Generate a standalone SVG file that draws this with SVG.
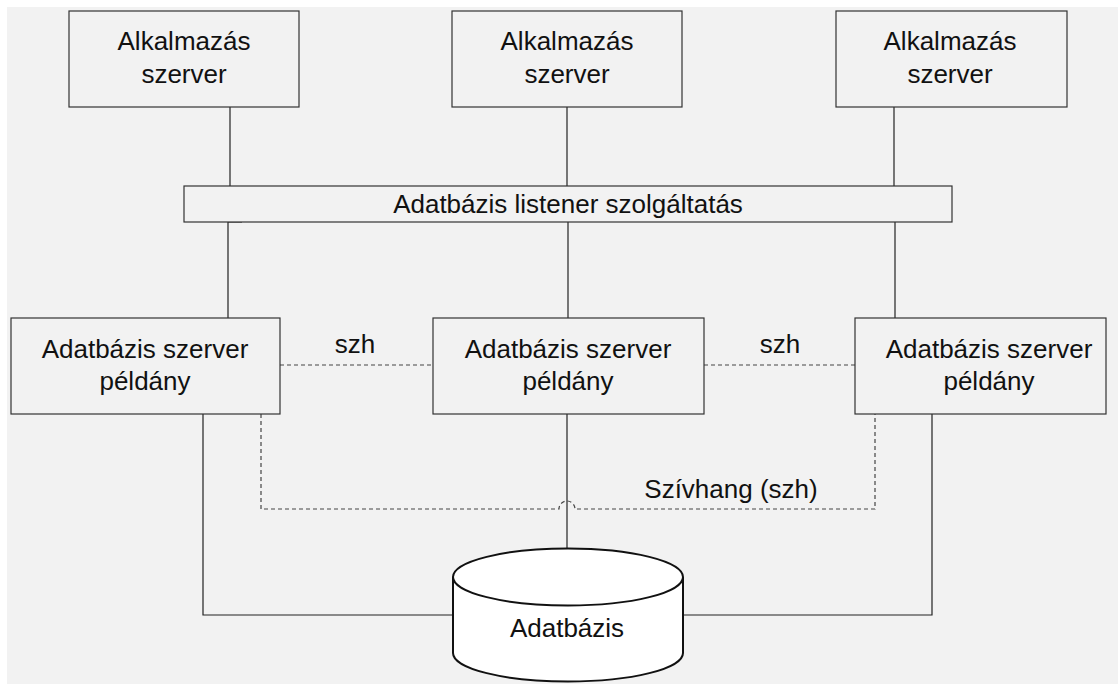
<svg xmlns="http://www.w3.org/2000/svg" width="1118" height="684" viewBox="0 0 1118 684">
<style>
.box{fill:#f2f2f2;stroke:#333;stroke-width:1.2}
.t{font-family:"Liberation Sans",Arial,sans-serif;font-size:26px;fill:#111;text-anchor:middle}
.ln{fill:none;stroke:#222;stroke-width:1.2}
.dl{fill:none;stroke:#444;stroke-width:1.2;stroke-dasharray:4,3}
.db{fill:#fff;stroke:#111;stroke-width:2}
</style>
<rect x="0" y="0" width="1118" height="684" fill="#fff"/>
<rect x="7" y="7" width="1111" height="677" fill="#f2f2f2"/>
<g id="connectors">
<path class="ln" d="M230,107 V186"/>
<path class="ln" d="M567,107 V186"/>
<path class="ln" d="M894,107 V186"/>
<path class="ln" d="M242,222 H228 V318"/>
<path class="ln" d="M568,222 V318"/>
<path class="ln" d="M895,222 V318"/>
<path class="dl" d="M280,365 H433"/>
<path class="dl" d="M704,365 H855"/>
<path class="ln" d="M203,414 V615 H453"/>
<path class="ln" d="M932,414 V615 H683"/>
<path class="ln" d="M567,414 V549"/>
<path class="dl" d="M261,414 V509 H559 A8,8 0 0 1 575,509 H875 V414"/>
<text class="t" x="355" y="353">szh</text>
<text class="t" x="780" y="353">szh</text>
<text class="t" x="731" y="498">Szívhang (szh)</text>
</g>
<g id="app1"><rect class="box" x="69" y="11" width="230" height="96"/><text class="t" x="184" y="50">Alkalmazás</text><text class="t" x="184" y="83">szerver</text></g>
<g id="app2"><rect class="box" x="452" y="11" width="230" height="96"/><text class="t" x="567" y="50">Alkalmazás</text><text class="t" x="567" y="83">szerver</text></g>
<g id="app3"><rect class="box" x="836" y="11" width="231" height="96"/><text class="t" x="950" y="50">Alkalmazás</text><text class="t" x="950" y="83">szerver</text></g>
<g id="listener"><rect class="box" x="184" y="186" width="768" height="36"/><text class="t" x="568" y="213">Adatbázis listener szolgáltatás</text></g>
<g id="db1"><rect class="box" x="11" y="318" width="269" height="96"/><text class="t" x="145" y="358">Adatbázis szerver</text><text class="t" x="145" y="390">példány</text></g>
<g id="db2"><rect class="box" x="433" y="318" width="271" height="96"/><text class="t" x="568" y="358">Adatbázis szerver</text><text class="t" x="568" y="390">példány</text></g>
<g id="db3"><rect class="box" x="855" y="318" width="251" height="96"/><text class="t" x="989" y="358">Adatbázis szerver</text><text class="t" x="989" y="390">példány</text></g>
<g id="database">
<path class="db" d="M453,577 V653 A115,28.5 0 0 0 683,653 V577 A115,28.5 0 0 0 453,577 Z"/>
<path class="db" d="M453,577 A115,28.5 0 0 0 683,577"/>
<text class="t" x="567" y="637">Adatbázis</text>
</g>
</svg>
